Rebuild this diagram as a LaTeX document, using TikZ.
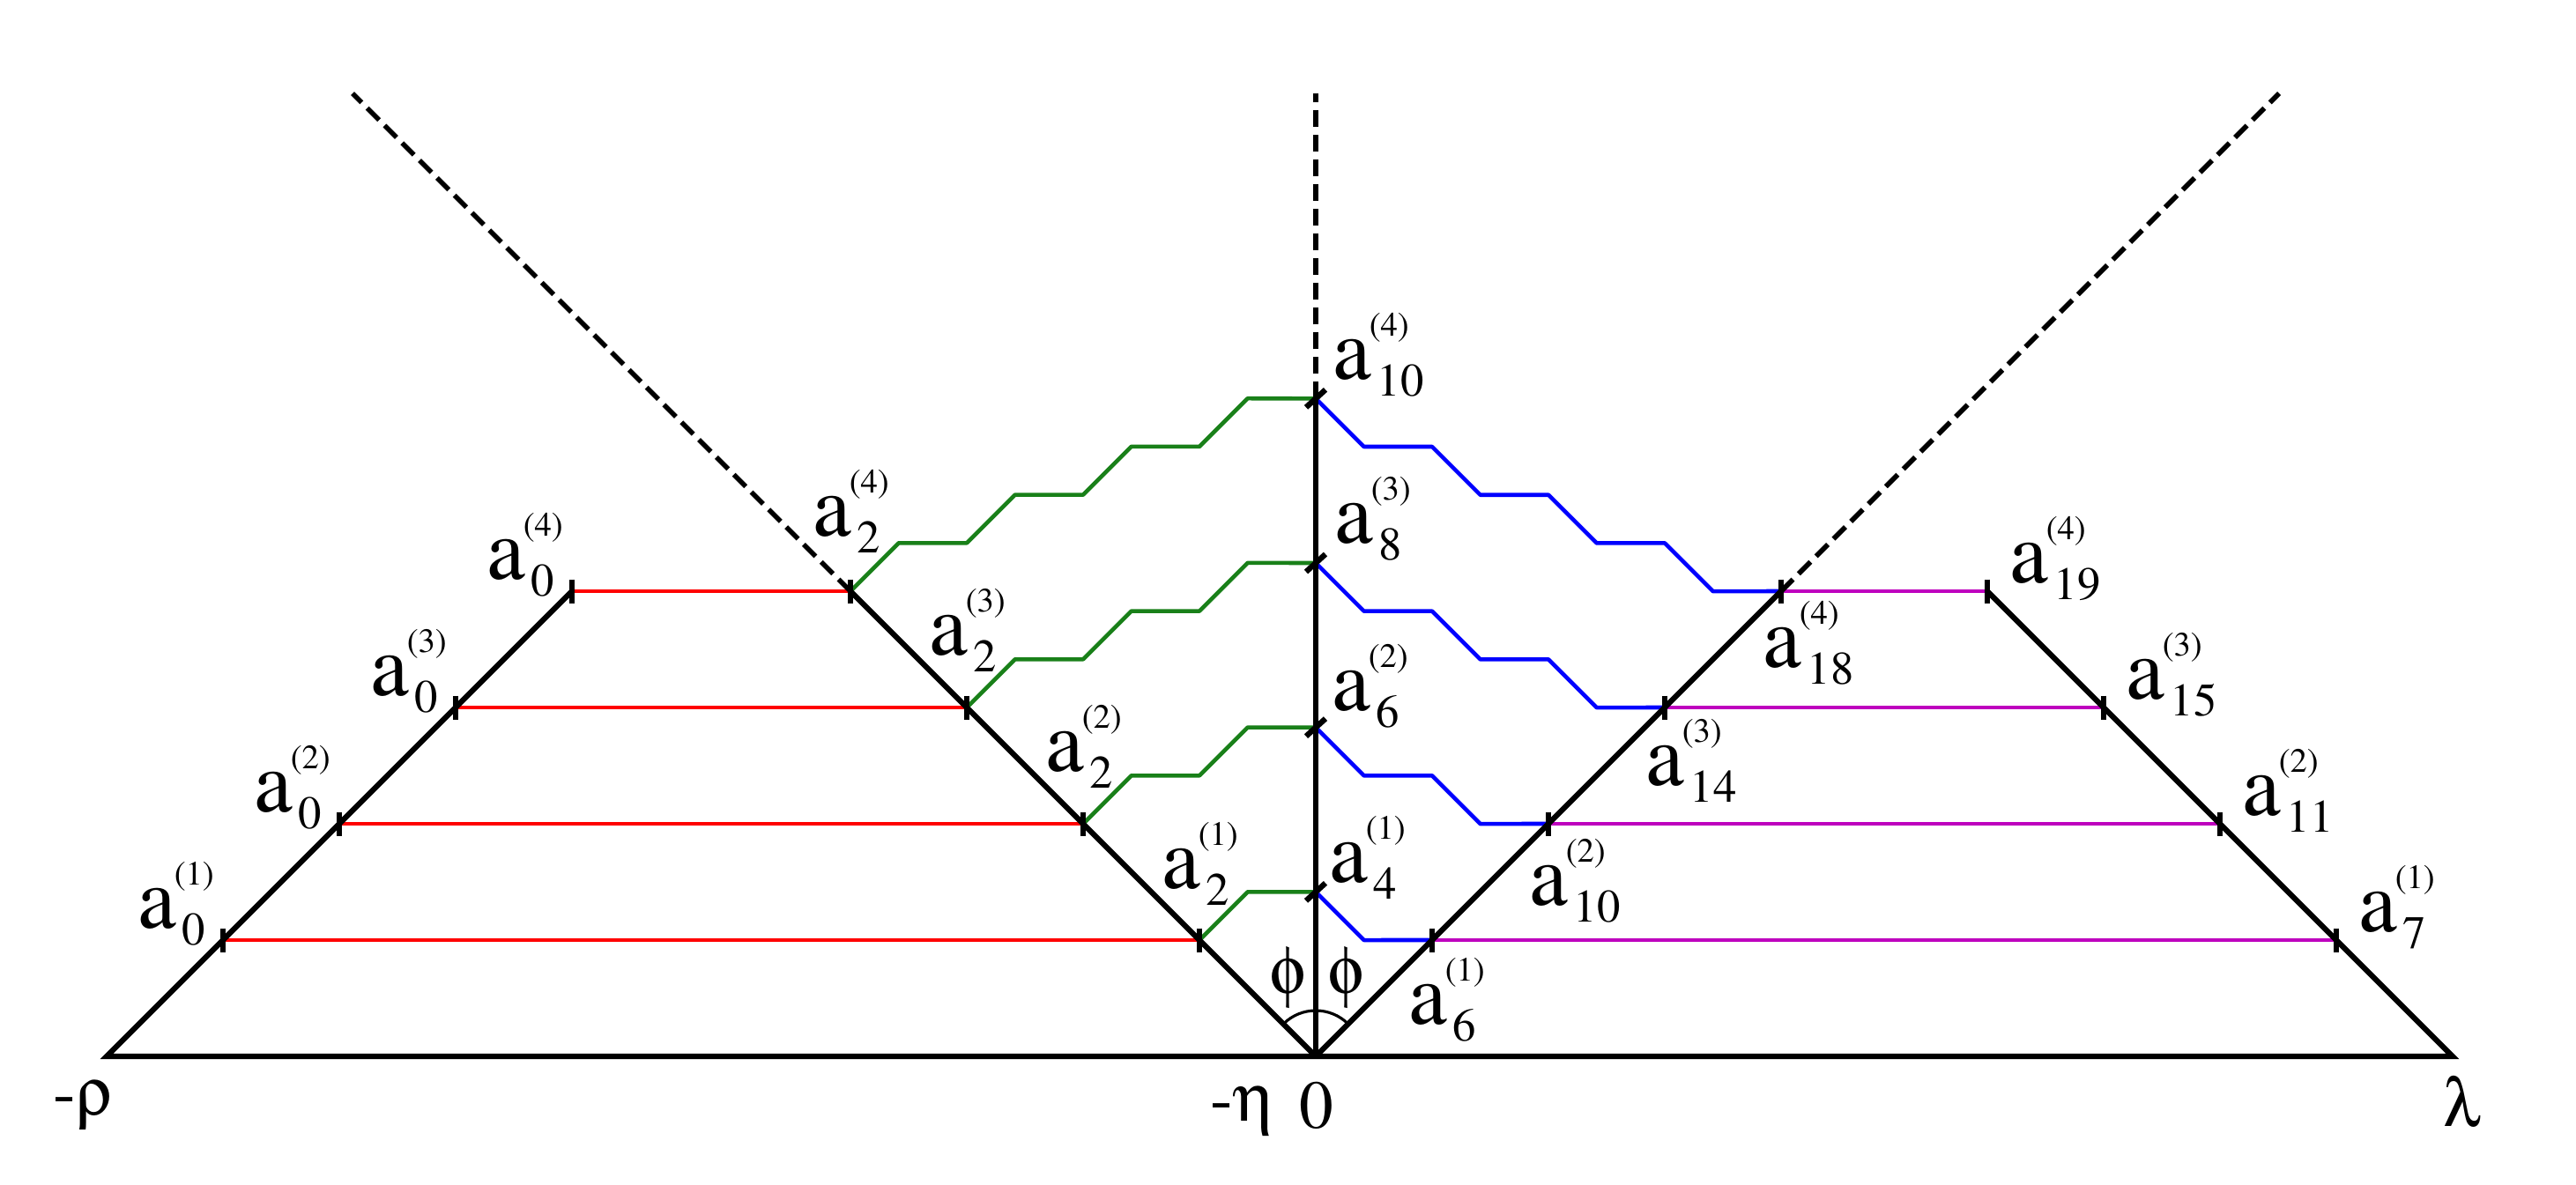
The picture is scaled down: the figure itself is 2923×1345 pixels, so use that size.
\documentclass[tikz,border=0pt]{standalone}
\usepackage[T1]{fontenc}
\usepackage{mathptmx}
\IfFileExists{upgreek.sty}{%
  \usepackage[Symbol]{upgreek}%
  \newcommand\gphi{$\upphi$}\newcommand\grho{$\uprho$}%
  \newcommand\geta{$\upeta$}\newcommand\glam{$\uplambda$}}{%
  \newcommand\gphi{$\phi$}\newcommand\grho{$\rho$}%
  \newcommand\geta{$\eta$}\newcommand\glam{$\lambda$}}
\usetikzlibrary{calc}
\definecolor{cred}{RGB}{255,0,0}
\definecolor{cgreen}{RGB}{25,128,25}
\definecolor{cblue}{RGB}{0,0,255}
\definecolor{cmag}{RGB}{190,0,190}
\newcommand{\albl}[2]{{\fontsize{28}{28}\selectfont a}\rlap{\smash{\hspace{2pt}\raisebox{-5.4pt}{\fontsize{15}{15}\selectfont #1}}}\rlap{\smash{\hspace{-0.6pt}\raisebox{13.7pt}{\fontsize{11}{11}\selectfont (#2)}}}}
\begin{document}
\begin{tikzpicture}[x=0.01cm,y=-0.01cm,
  blk/.style={line width=1.75pt,black,line join=miter},
  dsh/.style={line width=1.6pt,black,dash pattern=on 0.19cm off 0.09cm},
  lred/.style={line width=1.3pt,cred},
  lgreen/.style={line width=1.3pt,cgreen,line join=round},
  lblue/.style={line width=1.3pt,cblue,line join=round},
  lmag/.style={line width=1.3pt,cmag},
  tickv/.style={line width=1.8pt,black},
  lbl/.style={inner sep=0pt,font=\fontsize{28}{28}\selectfont},
  axl/.style={inner sep=0pt,font=\fontsize{22}{22}\selectfont}]
\useasboundingbox (0,0) rectangle (2923,1345);
\def\s{54.7}\def\h{77.3}
% base points
\coordinate (O) at (1493,1199);
\coordinate (L) at (121,1199);
\coordinate (R) at (2783,1199);
\coordinate (TL) at (400,106);
\coordinate (TR) at (2586,106);
\coordinate (TV) at (1493,106);
% level points
\foreach \k in {1,2,3,4}{
  \pgfmathsetmacro{\yy}{1199-132*\k}
  \pgfmathsetmacro{\vy}{1199-186.67*\k}
  \coordinate (P0\k) at ({121+132*\k},\yy);
  \coordinate (P2\k) at ({1493-132*\k},\yy);
  \coordinate (Q\k) at ({1493+132*\k},\yy);
  \coordinate (S\k) at ({2783-132*\k},\yy);
  \coordinate (V\k) at (1493,\vy);
}
% red and magenta horizontals
\foreach \k in {1,2,3,4}{
  \draw[lred] (P0\k) -- (P2\k);
  \draw[lmag] (Q\k) -- (S\k);
}
% green staircases
\draw[lgreen] (P21) -- ++(\s,-\s) -- (V1);
\draw[lgreen] (P22) -- ++(\s,-\s) -- ++(\h,0) -- ++(\s,-\s) -- (V2);
\draw[lgreen] (P23) -- ++(\s,-\s) -- ++(\h,0) -- ++(\s,-\s) -- ++(\h,0) -- ++(\s,-\s) -- (V3);
\draw[lgreen] (P24) -- ++(\s,-\s) -- ++(\h,0) -- ++(\s,-\s) -- ++(\h,0) -- ++(\s,-\s) -- ++(\h,0) -- ++(\s,-\s) -- (V4);
% blue staircases
\draw[lblue] (V1) -- ++(\s,\s) -- (Q1);
\draw[lblue] (V2) -- ++(\s,\s) -- ++(\h,0) -- ++(\s,\s) -- (Q2);
\draw[lblue] (V3) -- ++(\s,\s) -- ++(\h,0) -- ++(\s,\s) -- ++(\h,0) -- ++(\s,\s) -- (Q3);
\draw[lblue] (V4) -- ++(\s,\s) -- ++(\h,0) -- ++(\s,\s) -- ++(\h,0) -- ++(\s,\s) -- ++(\h,0) -- ++(\s,\s) -- (Q4);
% black frame
\draw[blk] (P04) -- (L) -- (R) -- (S4);
\draw[blk] (O) -- (P24);
\draw[blk] (O) -- (Q4);
\draw[blk] (O) -- (V4);
% dashed extensions
\draw[dsh] (P24) -- (TL);
\draw[dsh] (Q4) -- (TR);
\draw[dsh] (V4) -- (TV);
% ticks
\foreach \k in {1,2,3,4}{
  \draw[tickv] (P0\k) ++(0,-13.5) -- ++(0,27);
  \draw[tickv] (P2\k) ++(0,-13.5) -- ++(0,27);
  \draw[tickv] (Q\k) ++(0,-13.5) -- ++(0,27);
  \draw[tickv] (S\k) ++(0,-13.5) -- ++(0,27);
  \draw[tickv] (V\k) ++(-11,10) -- ++(22,-20);
}
% angle arc
\draw[line width=0.9pt] (O) ++(-45:52) arc[start angle=-45,end angle=-135,radius=52];
\node[axl] (phiL) at (1462,1110) {\gphi};
\node[axl] (phiR) at (1528,1110) {\gphi};
% axis labels
\node[axl,anchor=base] (rho) at (95,1265) {-\grho};
\node[axl,anchor=base] (eta) at (1410,1272) {-\geta};
\node[axl,anchor=base] (zero) at (1494,1280) {0};
\node[axl,anchor=base] (lam) at (2794,1278) {\glam};
% point labels
\node[lbl] (a01) at (178,1031) {\albl{0}{1}};
\node[lbl] (a02) at (310,899) {\albl{0}{2}};
\node[lbl] (a03) at (442,767) {\albl{0}{3}};
\node[lbl] (a04) at (574,635) {\albl{0}{4}};
\node[lbl] (a21) at (1340,986) {\albl{2}{1}};
\node[lbl] (a22) at (1208,853) {\albl{2}{2}};
\node[lbl] (a23) at (1076,721) {\albl{2}{3}};
\node[lbl] (a24) at (944,586) {\albl{2}{4}};
\node[lbl] (a41) at (1530,979) {\albl{4}{1}};
\node[lbl] (a62) at (1533,784) {\albl{6}{2}};
\node[lbl] (a83) at (1536,594) {\albl{8}{3}};
\node[lbl] (a104) at (1534,408) {\albl{10}{4}};
\node[lbl] (a61) at (1620,1140) {\albl{6}{1}};
\node[lbl] (a102) at (1757,1005) {\albl{10}{2}};
\node[lbl] (a143) at (1889,869) {\albl{14}{3}};
\node[lbl] (a184) at (2022,735) {\albl{18}{4}};
\node[lbl] (a71) at (2698,1035) {\albl{7}{1}};
\node[lbl] (a112) at (2566,903) {\albl{11}{2}};
\node[lbl] (a153) at (2434,771) {\albl{15}{3}};
\node[lbl] (a194) at (2302,639) {\albl{19}{4}};
\end{tikzpicture}
\end{document}
